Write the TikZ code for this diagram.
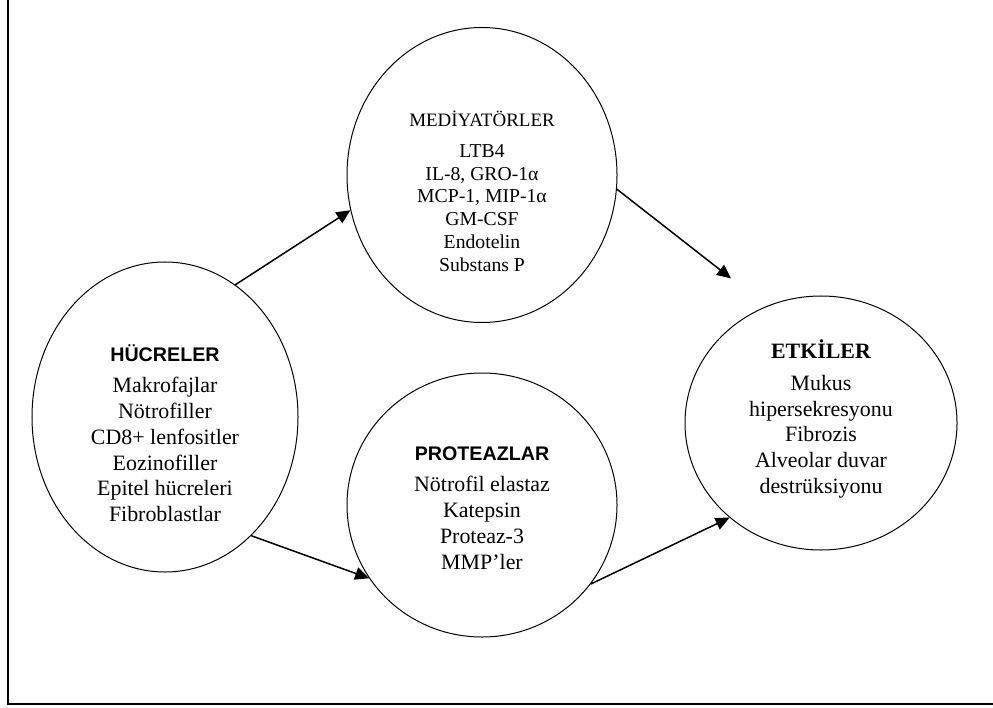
\documentclass[tikz,border=0pt]{standalone}
\usepackage{fontspec}
\setmainfont{Liberation Serif}
\newfontfamily\headfont{Liberation Sans}
\usetikzlibrary{arrows.meta,shapes.geometric}

\begin{document}
\begin{tikzpicture}[x=0.3mm,y=-0.3mm,>={Triangle[length=4.2mm,width=3.8mm]},
  blob/.style={ellipse,draw,line width=0.3mm,inner sep=0pt},
  body/.style={align=center,inner sep=0pt,font=\fontsize{18.7}{22}\selectfont},
  small/.style={align=center,inner sep=0pt,font=\fontsize{16.8}{19.4}\selectfont},
  link/.style={->,line width=0.45mm}]
  \useasboundingbox (0,0) rectangle (993,708);
  % open frame, left and bottom only
  \draw[line width=0.6mm] (7.5,0) -- (7.5,704) -- (993,704);

  \node[blob,minimum width=79.8mm,minimum height=93mm]   (huc)  at (165,417) {};
  \node[blob,minimum width=81mm,minimum height=88.5mm]   (medi) at (482,175) {};
  \node[blob,minimum width=81mm,minimum height=79.2mm]   (prot) at (482,505) {};
  \node[blob,minimum width=81.6mm,minimum height=76.2mm] (etk)  at (821,423) {};

  \node[body] (hucT) at (165,433) {{\headfont\bfseries\fontsize{16.8}{20}\selectfont HÜCRELER}\\[5pt]
    Makrofajlar\\ Nötrofiller\\ CD8+ lenfositler\\ Eozinofiller\\ Epitel hücreleri\\ Fibroblastlar};
  \node[small] (mediT) at (482,191) {{\fontsize{16.2}{19}\selectfont MEDİYATÖRLER}\\[7pt]
    LTB4\\ IL-8, GRO-1α\\ MCP-1, MIP-1α\\ GM-CSF\\ Endotelin\\ Substans P};
  \node[body] (protT) at (482,508) {{\headfont\bfseries\fontsize{16.8}{20}\selectfont PROTEAZLAR}\\[5pt]
    Nötrofil elastaz\\ Katepsin\\ Proteaz-3\\ MMP’ler};
  \node[body] (etkT) at (821,419) {{\bfseries ETKİLER}\\[5pt]
    Mukus\\ hipersekresyonu\\ Fibrozis\\ Alveolar duvar\\ destrüksiyonu};

  \path[link] (huc.62.8) edge (medi.195.3)
    (medi.-6.8) edge[shorten >=13.5mm] (etk.115.5)
    (huc.-54.5) edge (prot.213.3)
    (prot.-36) edge (etk.226.8);
\end{tikzpicture}
\end{document}
